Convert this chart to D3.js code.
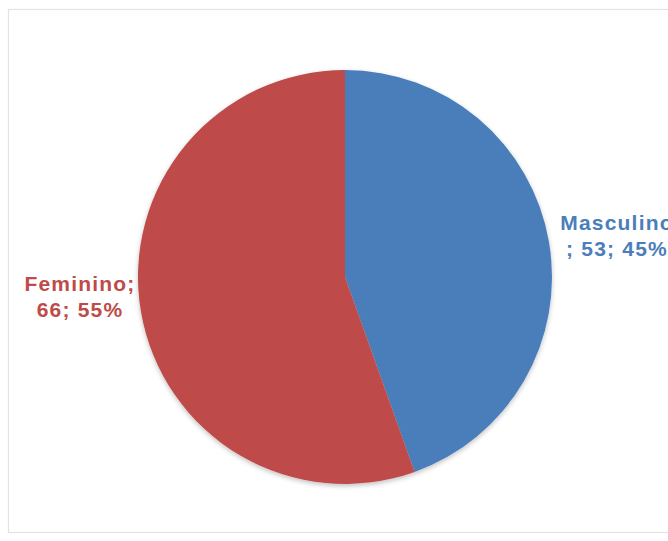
<!DOCTYPE html>
<html>
<head>
<meta charset="utf-8">
<script src="https://cdn.jsdelivr.net/npm/d3@7"></script>
<style>
  html, body { margin: 0; padding: 0; background: #ffffff; overflow: hidden; }
  svg { display: block; }
</style>
</head>
<body>
<svg id="chart" width="668" height="541"></svg>
<script>
const categories = ["Masculino", "Feminino"];
const values = [53, 66];
const percentLabels = ["45%", "55%"];
const colors = ["#4a7ebb", "#be4b48"];

const W = 668, H = 541;
const cx = 345, cy = 277, R = 207;

const svg = d3.select("#chart");

// chart area border
svg.append("rect")
  .attr("x", 8.5).attr("y", 9.5)
  .attr("width", 680).attr("height", 523)
  .attr("fill", "#ffffff")
  .attr("stroke", "#e3e3e3")
  .attr("stroke-width", 1.2);

const data = categories.map((c, i) => ({ name: c, value: values[i], pct: percentLabels[i], color: colors[i] }));

const pie = d3.pie().sort(null).value(d => d.value);
const arcs = pie(data);
const arc = d3.arc().innerRadius(0).outerRadius(R);

const defs = svg.append("defs");
const f = defs.append("filter").attr("id", "soft").attr("x", "-10%").attr("y", "-10%").attr("width", "120%").attr("height", "120%");
f.append("feGaussianBlur").attr("in", "SourceAlpha").attr("stdDeviation", 2.5).attr("result", "b");
f.append("feOffset").attr("in", "b").attr("dx", 0).attr("dy", 2).attr("result", "o");
f.append("feComponentTransfer").attr("in", "o").attr("result", "s")
  .append("feFuncA").attr("type", "linear").attr("slope", 0.25);
const m = f.append("feMerge");
m.append("feMergeNode").attr("in", "s");
m.append("feMergeNode").attr("in", "SourceGraphic");

const g = svg.append("g").attr("transform", `translate(${cx},${cy})`).attr("filter", "url(#soft)");
g.selectAll("path").data(arcs).enter().append("path")
  .attr("d", arc)
  .attr("fill", d => d.data.color);

// labels
const labelFont = "Liberation Sans, Arial, sans-serif";
function addLabel(x, y, lines, color) {
  const t = svg.append("text")
    .attr("x", x).attr("y", y)
    .attr("fill", color)
    .attr("font-family", labelFont)
    .attr("font-weight", "bold")
    .attr("font-size", 21)
    .attr("letter-spacing", 1.2)
    .attr("text-anchor", "middle");
  lines.forEach((l, i) => {
    t.append("tspan").attr("x", x).attr("dy", i === 0 ? 0 : 26).text(l);
  });
}

addLabel(617, 230, [data[0].name, `; ${data[0].value}; ${data[0].pct}`], colors[0]);
addLabel(80, 291, [`${data[1].name};`, `${data[1].value}; ${data[1].pct}`], colors[1]);
</script>
</body>
</html>
